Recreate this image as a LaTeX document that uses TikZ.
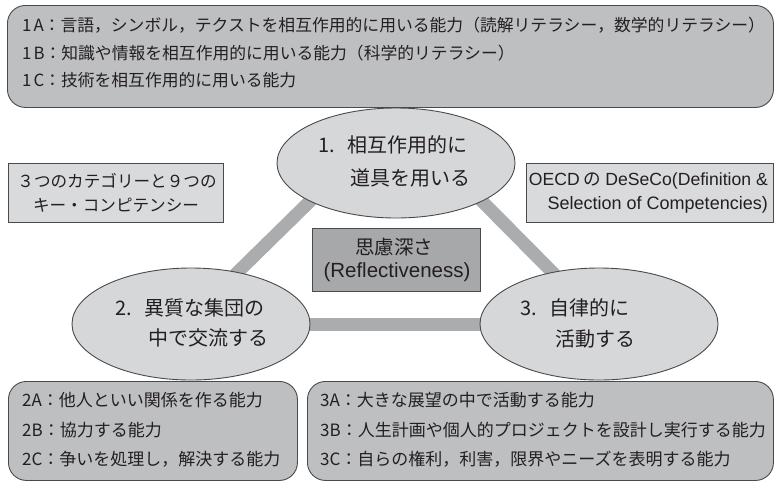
\documentclass[tikz,border=0pt]{standalone}
\usepackage{fontspec}
\setmainfont{Liberation Sans}
\newfontfamily\jp{Noto Sans CJK JP}
\usetikzlibrary{shapes.geometric,backgrounds}
\definecolor{panelfill}{HTML}{BEBFC1}
\definecolor{ellfill}{HTML}{D6D7D9}
\definecolor{infofill}{HTML}{D9DADC}
\definecolor{centerfill}{HTML}{A7A8AA}
\definecolor{linkcol}{HTML}{ABACAE}
\definecolor{bordercol}{HTML}{4A4A4C}
\definecolor{textcol}{HTML}{231F20}
\begin{document}
\begin{tikzpicture}[x=1pt,y=-1pt,
  panel/.style={draw=bordercol, line width=0.9pt, fill=panelfill, rounded corners=18pt, anchor=north west, inner sep=0pt},
  infobox/.style={draw=bordercol, line width=0.9pt, fill=infofill, anchor=north west, inner sep=0pt},
  centerbox/.style={draw=bordercol, line width=0.9pt, fill=centerfill, anchor=north west, inner sep=0pt},
  ell/.style={ellipse, draw=bordercol, line width=0.9pt, fill=ellfill, minimum width=238pt, minimum height=112pt, inner sep=0pt},
  link/.style={draw=linkcol, line width=13pt, shorten <=-8pt, shorten >=-8pt},
  lbl/.style={inner sep=0pt, anchor=west, text=textcol, font=\jp\fontsize{16.8}{20}\selectfont},
  elbl/.style={inner sep=0pt, anchor=west, text=textcol, font=\jp\fontsize{20}{24}\selectfont},
  info/.style={inner sep=0pt, text=textcol, font=\jp\fontsize{16.6}{20}\selectfont},
]
\useasboundingbox (0,0) rectangle (775,483);

% panels
\node[panel, minimum width=766pt, minimum height=102pt] (top) at (7,5) {};
\node[panel, minimum width=289pt, minimum height=99pt] (bl) at (8,381) {};
\node[panel, minimum width=466pt, minimum height=99pt] (br) at (307,381) {};

% info boxes
\node[infobox, minimum width=215pt, minimum height=59pt] (lbox) at (8,163) {};
\node[infobox, minimum width=247pt, minimum height=59pt] (rbox) at (526,163) {};
\node[centerbox, minimum width=168pt, minimum height=63pt] (cbox) at (312,228) {};

% ellipses
\node[ell, minimum height=110pt] (e1) at (396,163) {};
\node[ell] (e2) at (191,324) {};
\node[ell] (e3) at (599,324) {};

\begin{scope}[on background layer]
\draw[link] (e1.204) -- (e2.48);
\draw[link] (e1.336) -- (e3.132);
\draw[link] (e2.east) -- (e3.west);
\end{scope}

% top panel text
\node[lbl] (t1a) at (22,25) {1\hspace{2pt}A：言語，シンボル，テクストを相互作用的に用いる能力（読解リテラシー，数学的リテラシー）};
\node[lbl] (t1b) at (22,53) {1\hspace{2pt}B：知識や情報を相互作用的に用いる能力（科学的リテラシー）};
\node[lbl] (t1c) at (22,80) {1\hspace{2pt}C：技術を相互作用的に用いる能力};

% bottom panels text
\node[lbl, font=\jp\fontsize{17}{20}\selectfont] (t2a) at (22,400) {2A：他人といい関係を作る能力};
\node[lbl, font=\jp\fontsize{17}{20}\selectfont] (t2b) at (22,430) {2B：協力する能力};
\node[lbl, font=\jp\fontsize{17}{20}\selectfont] (t2c) at (22,459) {2C：争いを処理し，解決する能力};
\node[lbl, font=\jp\fontsize{17}{20}\selectfont] (t3a) at (320,400) {3A：大きな展望の中で活動する能力};
\node[lbl, font=\jp\fontsize{17}{20}\selectfont] (t3b) at (320,430) {3B：人生計画や個人的プロジェクトを設計し実行する能力};
\node[lbl, font=\jp\fontsize{17}{20}\selectfont] (t3c) at (320,459) {3C：自らの権利，利害，限界やニーズを表明する能力};

% ellipse text
\node[elbl] (e1a) at (318,145) {1.\hspace{13pt}相互作用的に};
\node[elbl] (e1b) at (350,178) {道具を用いる};
\node[elbl] (e2a) at (115,308) {2.\hspace{13pt}異質な集団の};
\node[elbl] (e2b) at (148,338) {中で交流する};
\node[elbl] (e3a) at (520,308) {3.\hspace{13pt}自律的に};
\node[elbl] (e3b) at (555,339) {活動する};

% info text
\node[info] (l1) at (117,181) {３つのカテゴリーと９つの};
\node[info] (l2) at (116,205) {キー・コンピテンシー};
\node[info, anchor=east, font=\fontsize{17.6}{21}\selectfont] (r1) at (768,181) {OECD\hspace{4pt}{\jp の}\hspace{4pt}DeSeCo(Definition \&};
\node[info, anchor=east, font=\fontsize{18}{21}\selectfont] (r2) at (768,205) {Selection of Competencies)};

% center text
\node[inner sep=0pt, text=textcol, font=\jp\fontsize{19.5}{23}\selectfont] (c1) at (394,247) {思慮深さ};
\node[inner sep=0pt, text=textcol, font=\fontsize{20.5}{24}\selectfont] (c2) at (397,272) {(Reflectiveness)};
\end{tikzpicture}
\end{document}
